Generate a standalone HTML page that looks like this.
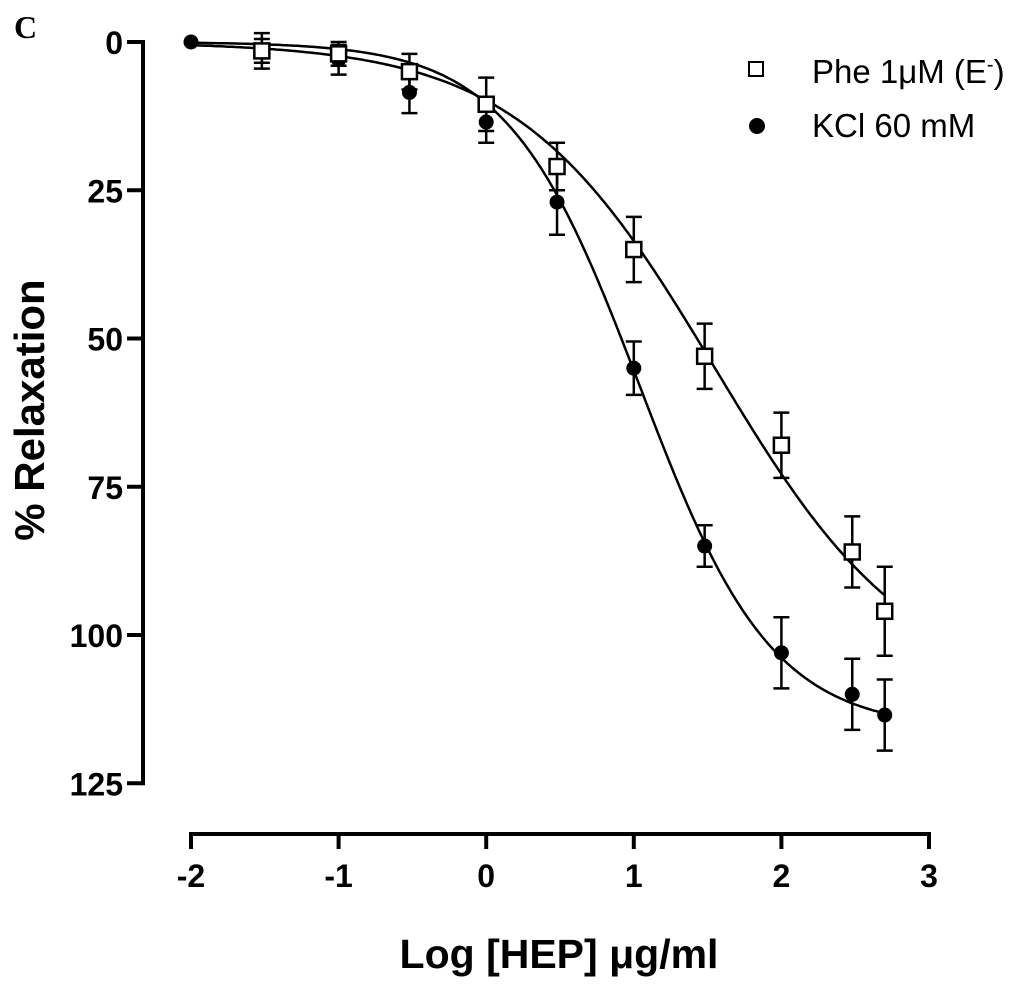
<!DOCTYPE html>
<html><head><meta charset="utf-8"><style>
body{margin:0;background:#fff;}
svg text{font-family:"Liberation Sans",sans-serif;}
</style></head><body>
<svg id="chart" width="1024" height="987" xmlns="http://www.w3.org/2000/svg">
<text x="14" y="38" style="font-family:'Liberation Serif',serif;font-weight:bold;font-size:32px">C</text>
<g id="axes"></g><g id="curves"></g><g id="marks"></g>
<g>
<rect x="749" y="62" width="14" height="14" fill="#fff" stroke="#000" stroke-width="2"/>
<text x="812" y="83" font-size="33">Phe 1μM (E<tspan dy="-12" font-size="20">-</tspan><tspan dy="12">)</tspan></text>
<circle cx="757" cy="126" r="8" fill="#000"/>
<text x="812" y="137" font-size="33">KCl 60 mM</text>
</g>
<text x="559" y="968" text-anchor="middle" font-size="41" font-weight="bold">Log [HEP] μg/ml</text>
<text transform="translate(44,410) rotate(-90)" text-anchor="middle" font-size="42" font-weight="bold">% Relaxation</text>
</svg>
<script>
const xTicks=[-2,-1,0,1,2,3];
const yTicks=[0,25,50,75,100,125];
const doses=[-2,-1.52,-1,-0.52,0,0.48,1,1.48,2,2.48,2.7];
const pheValues=[0,1.5,2,5,10.5,21,35,53,68,86,96];
const pheErr=[0,2,2,3,4.5,4,5.5,5.5,5.5,6,7.5];
const kclValues=[0,1.5,3,8.5,13.5,27,55,85,103,110,113.5];
const kclErr=[0,3,2.5,3.5,3.5,5.5,4.5,3.5,6,6,6];
const pheFit=[110,1.55,0.65];
const kclFit=[116,1.04,0.97];
const NS="http://www.w3.org/2000/svg";
const X=v=>191+(v+2)*147.6, Y=v=>42+v*5.93;
function mk(t,a,p){const e=document.createElementNS(NS,t);for(const k in a)e.setAttribute(k,a[k]);p.appendChild(e);return e;}
const ax=document.getElementById('axes'),cv=document.getElementById('curves'),mg=document.getElementById('marks');
let l=mk('line',{x1:143,y1:Y(0)-2,x2:143,y2:Y(125)+2,stroke:'#000','stroke-width':4},ax);


l=mk('line',{x1:X(-2)-2,y1:834,x2:X(3)+2,y2:834,stroke:'#000','stroke-width':4},ax);


yTicks.forEach(v=>{
 const t=mk('line',{x1:127,y1:Y(v),x2:143,y2:Y(v),stroke:'#000','stroke-width':4},ax);
 
 
 const s=mk('text',{x:123,y:Y(v)+12,'text-anchor':'end','font-size':32,'font-weight':'bold'},ax);s.textContent=v;
 
 
});
xTicks.forEach(v=>{
 const t=mk('line',{x1:X(v),y1:834,x2:X(v),y2:849,stroke:'#000','stroke-width':4},ax);
 
 
 const s=mk('text',{x:X(v),y:887,'text-anchor':'middle','font-size':32,'font-weight':'bold'},ax);s.textContent=v;
 
 
});
function hill(p,x){return p[0]/(1+Math.pow(10,p[2]*(p[1]-x)));}
[[pheFit,'phe-fit-curve'],[kclFit,'kcl-fit-curve']].forEach(([p,n])=>{
 let d='';for(let x=-2;x<=2.7001;x+=0.02)d+=(d?'L':'M')+X(x).toFixed(1)+','+Y(hill(p,x)).toFixed(1);
 const e=mk('path',{d:d,fill:'none',stroke:'#000','stroke-width':2.5},cv);
 
 
});
function errbar(x,v,e){
 if(!e)return;
 const g=mk('g',{stroke:'#000','stroke-width':2.5},mg);
 
 
 mk('line',{x1:X(x),x2:X(x),y1:Y(v-e),y2:Y(v+e)},g);
 mk('line',{x1:X(x)-8,x2:X(x)+8,y1:Y(v-e),y2:Y(v-e)},g);
 mk('line',{x1:X(x)-8,x2:X(x)+8,y1:Y(v+e),y2:Y(v+e)},g);
}
doses.forEach((x,i)=>{errbar(x,kclValues[i],kclErr[i]);errbar(x,pheValues[i],pheErr[i]);});
doses.forEach((x,i)=>{
 const c=mk('circle',{cx:X(x),cy:Y(kclValues[i]),r:7.5,fill:'#000'},mg);
 
 
});
doses.forEach((x,i)=>{
 if(i===0)return;
 const r=mk('rect',{x:X(x)-7.5,y:Y(pheValues[i])-7.5,width:15,height:15,fill:'#fff',stroke:'#000','stroke-width':2.5},mg);
 
 
});
</script>
</body></html>
